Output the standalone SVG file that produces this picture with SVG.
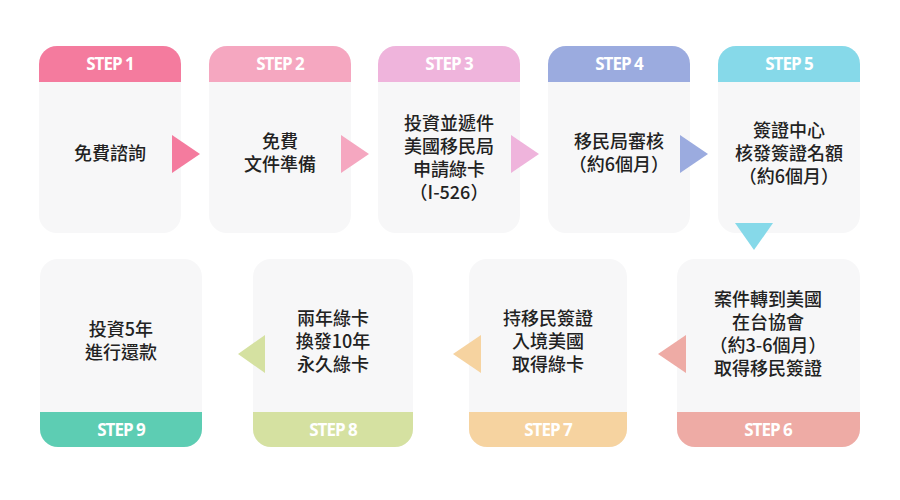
<svg xmlns="http://www.w3.org/2000/svg" width="900" height="500" viewBox="0 0 900 500">
<defs><style>
.card{fill:#f7f7f8}
.t{font-family:"Noto Sans CJK TC","Noto Sans",sans-serif;font-size:18px;fill:#222;text-anchor:middle;font-weight:500}
.s{font-family:"Open Sans","Noto Sans",sans-serif;font-size:17px;fill:#fff;text-anchor:middle;font-weight:700;letter-spacing:-1px}
</style>
<clipPath id="c1"><rect x="39" y="46" width="142" height="187" rx="18"/></clipPath>
<clipPath id="c2"><rect x="209" y="46" width="142" height="187" rx="18"/></clipPath>
<clipPath id="c3"><rect x="378" y="46" width="142" height="187" rx="18"/></clipPath>
<clipPath id="c4"><rect x="548" y="46" width="142" height="187" rx="18"/></clipPath>
<clipPath id="c5"><rect x="718" y="46" width="142" height="187" rx="18"/></clipPath>
<clipPath id="c6"><rect x="677" y="259" width="183" height="188" rx="18"/></clipPath>
<clipPath id="c7"><rect x="469" y="259" width="158" height="188" rx="18"/></clipPath>
<clipPath id="c8"><rect x="253" y="259" width="160" height="188" rx="18"/></clipPath>
<clipPath id="c9"><rect x="40" y="259" width="162" height="188" rx="18"/></clipPath>
</defs>
<rect width="900" height="500" fill="#fff"/>
<g id="step1" clip-path="url(#c1)"><rect class="card" x="39" y="46" width="142" height="187"/><rect x="39" y="46" width="142" height="36" fill="#f47b9e"/><text class="s" x="110" y="70">STEP 1</text><text class="t" x="110" y="160">免費諮詢</text></g>
<g id="step2" clip-path="url(#c2)"><rect class="card" x="209" y="46" width="142" height="187"/><rect x="209" y="46" width="142" height="36" fill="#f5a7c0"/><text class="s" x="280" y="70">STEP 2</text><text class="t" x="280" y="148">免費</text><text class="t" x="280" y="171">文件準備</text></g>
<g id="step3" clip-path="url(#c3)"><rect class="card" x="378" y="46" width="142" height="187"/><rect x="378" y="46" width="142" height="36" fill="#efb4dc"/><text class="s" x="449" y="70">STEP 3</text><text class="t" x="449" y="130">投資並遞件</text><text class="t" x="449" y="153">美國移民局</text><text class="t" x="449" y="176">申請綠卡</text><text class="t" x="449" y="199">（I-526）</text></g>
<g id="step4" clip-path="url(#c4)"><rect class="card" x="548" y="46" width="142" height="187"/><rect x="548" y="46" width="142" height="36" fill="#9babdf"/><text class="s" x="619" y="70">STEP 4</text><text class="t" x="619" y="148">移民局審核</text><text class="t" x="619" y="171">（約6個月）</text></g>
<g id="step5" clip-path="url(#c5)"><rect class="card" x="718" y="46" width="142" height="187"/><rect x="718" y="46" width="142" height="36" fill="#86d9e9"/><text class="s" x="789" y="70">STEP 5</text><text class="t" x="789" y="137">簽證中心</text><text class="t" x="789" y="160">核發簽證名額</text><text class="t" x="789" y="183">（約6個月）</text></g>
<g id="step6" clip-path="url(#c6)"><rect class="card" x="677" y="259" width="183" height="188"/><rect x="677" y="412" width="183" height="35" fill="#eeaba5"/><text class="s" x="768" y="436">STEP 6</text><text class="t" x="768" y="306">案件轉到美國</text><text class="t" x="768" y="329">在台協會</text><text class="t" x="768" y="352">（約3-6個月）</text><text class="t" x="768" y="375">取得移民簽證</text></g>
<g id="step7" clip-path="url(#c7)"><rect class="card" x="469" y="259" width="158" height="188"/><rect x="469" y="412" width="158" height="35" fill="#f6d3a0"/><text class="s" x="548" y="436">STEP 7</text><text class="t" x="548" y="325">持移民簽證</text><text class="t" x="548" y="348">入境美國</text><text class="t" x="548" y="371">取得綠卡</text></g>
<g id="step8" clip-path="url(#c8)"><rect class="card" x="253" y="259" width="160" height="188"/><rect x="253" y="412" width="160" height="35" fill="#d5e1a1"/><text class="s" x="333" y="436">STEP 8</text><text class="t" x="333" y="325">兩年綠卡</text><text class="t" x="333" y="348">換發10年</text><text class="t" x="333" y="371">永久綠卡</text></g>
<g id="step9" clip-path="url(#c9)"><rect class="card" x="40" y="259" width="162" height="188"/><rect x="40" y="412" width="162" height="35" fill="#5dcdb3"/><text class="s" x="121" y="436">STEP 9</text><text class="t" x="121" y="336">投資5年</text><text class="t" x="121" y="359">進行還款</text></g>
<g id="connectors">
<polygon points="172,135 200,154 172,173" fill="#f47b9e"/>
<polygon points="341,135 369,154 341,173" fill="#f5a7c0"/>
<polygon points="511,135 539,154 511,173" fill="#efb4dc"/>
<polygon points="680,135 708,154 680,173" fill="#9babdf"/>
<polygon points="735,223 773,223 754,250" fill="#86d9e9"/>
<polygon points="686,335 658,354 686,373" fill="#eeaba5"/>
<polygon points="481,335 453,354 481,373" fill="#f6d3a0"/>
<polygon points="265,335 238,354 265,373" fill="#d5e1a1"/>
</g>
</svg>
